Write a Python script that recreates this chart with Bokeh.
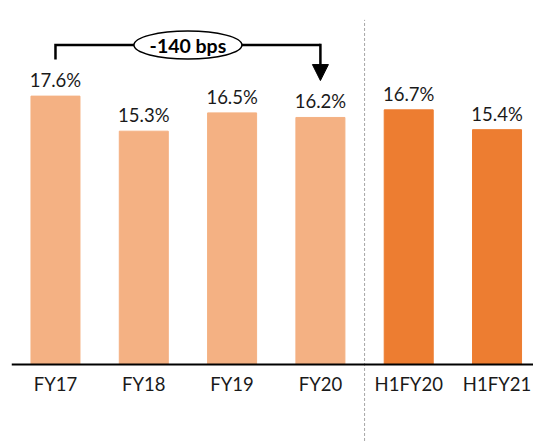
from bokeh.plotting import figure
from bokeh.models import Range1d, Span, ColumnDataSource, Arrow, NormalHead
from bokeh.core.properties import value
from bokeh.embed import file_html
from bokeh.resources import INLINE

# EBITDA margin by period
categories = ["FY17", "FY18", "FY19", "FY20", "H1FY20", "H1FY21"]
margins = [17.6, 15.3, 16.5, 16.2, 16.7, 15.4]
bar_colors = ["#F4B183", "#F4B183", "#F4B183", "#F4B183", "#ED7D31", "#ED7D31"]
change_label = "-140 bps"

FONT = "Lato"
TEXT_COLOR = "#1a1a1a"

xs = list(range(len(categories)))
src = ColumnDataSource(dict(
    x=xs,
    top=margins,
    color=bar_colors,
    cat=categories,
    lbl=[f"{v:.1f}%" for v in margins],
))

p = figure(
    width=533, height=441,
    x_range=Range1d(-0.498, 5.413),
    y_range=Range1d(-5.05, 23.87),
    output_backend="svg", toolbar_location=None,
    min_border_left=11, min_border_right=0,
    min_border_top=0, min_border_bottom=0,
)
p.outline_line_color = None
p.background_fill_color = "white"
p.border_fill_color = "white"
p.xaxis.visible = False
p.yaxis.visible = False
p.xgrid.visible = False
p.ygrid.visible = False

# bars
p.vbar(x="x", top="top", bottom=0, width=0.555, color="color", source=src)

# baseline
p.add_layout(Span(location=0, dimension="width", line_color="black", line_width=2))

# divider between full-year and half-year periods
p.segment(x0=3.5, y0=-6, x1=3.5, y1=22.6, line_color="#a6a6a6",
          line_width=1, line_dash="3 2")

# value labels above bars
p.text(x="x", y="top", text="lbl", source=src, text_align="center",
       text_baseline="alphabetic", y_offset=-16, text_font=value(FONT),
       text_font_size="18.5px", text_color=TEXT_COLOR)

# category labels under the baseline
p.text(x="x", y=0, text="cat", source=src, text_align="center",
       text_baseline="alphabetic", y_offset=20, text_font=value(FONT),
       text_font_size="18.5px", text_color=TEXT_COLOR)

# bracket from FY17 to FY20 with the change callout
bracket_y = 20.95
p.line(x=[0, 0, 3], y=[20.0, bracket_y, bracket_y], line_color="black",
       line_width=2.5, line_join="miter")
p.add_layout(Arrow(end=NormalHead(size=16, fill_color="black", line_color="black"),
                   x_start=3, y_start=bracket_y + 0.08, x_end=3, y_end=18.62,
                   line_color="black", line_width=2.5))
p.ellipse(x=[1.5], y=[bracket_y], width=108, height=28, width_units="screen",
          height_units="screen", fill_color="white", line_color="black",
          line_width=1.5)
p.text(x=[1.5], y=[bracket_y], text=[change_label], text_align="center",
       text_baseline="middle", text_font=value(FONT), text_font_size="19.5px",
       text_font_style="bold", text_color="black")

open("out.html", "w").write(file_html(p, INLINE))
